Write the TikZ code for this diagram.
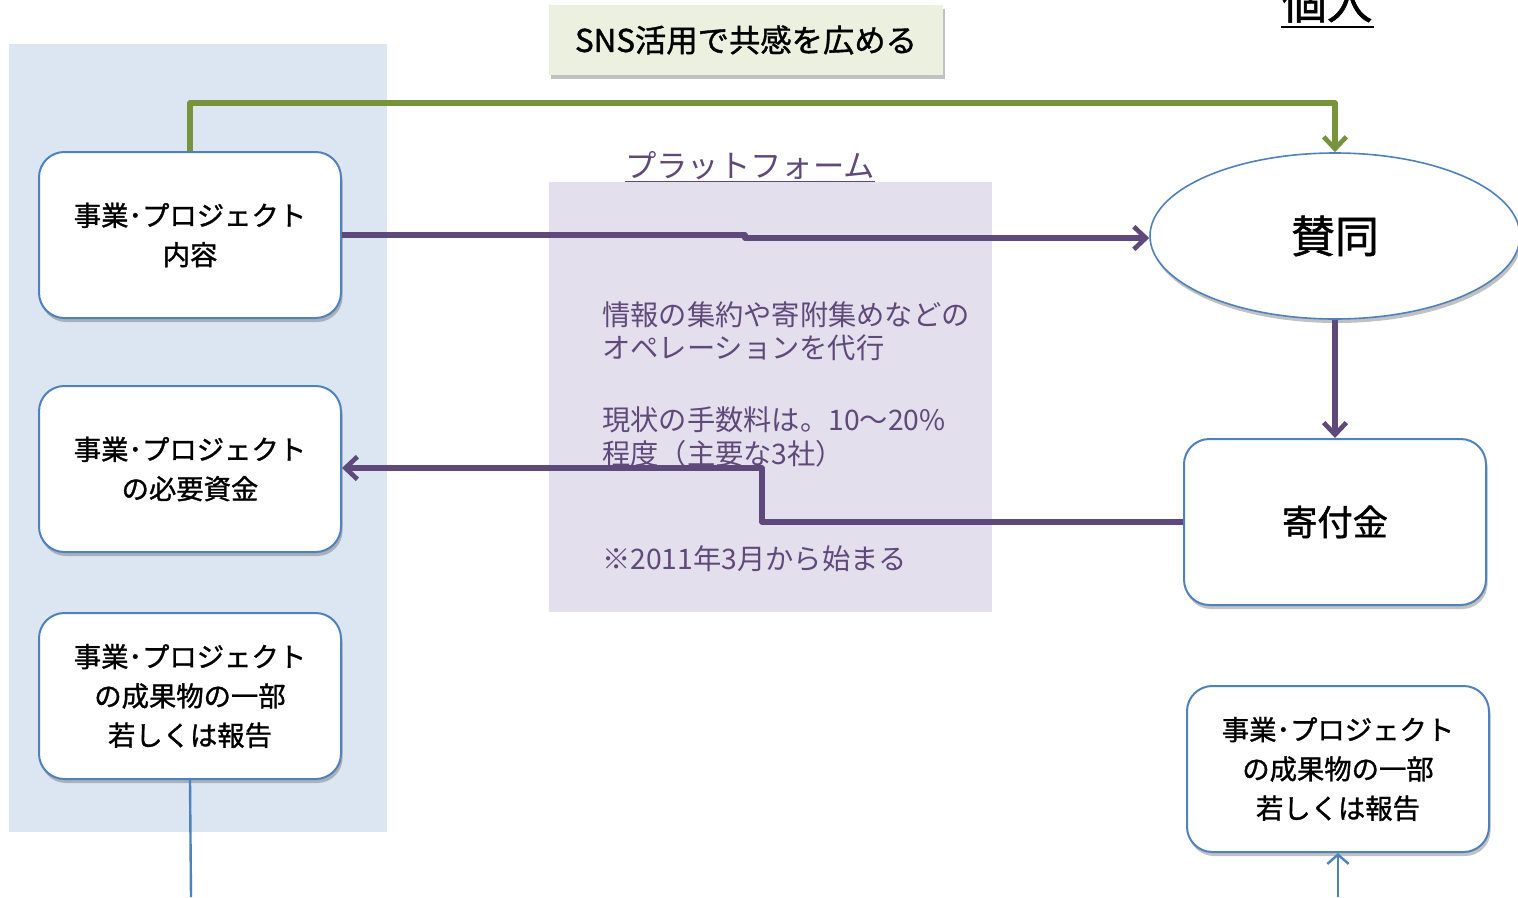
\documentclass[tikz,border=0pt]{standalone}
\usepackage{fontspec}
\setmainfont{Noto Sans CJK JP}
\newfontfamily\bxfont{Noto Sans CJK JP}[FakeBold=1.2]
\usetikzlibrary{arrows.meta,shadows,shapes.geometric}
\definecolor{panelblue}{HTML}{DCE6F2}
\definecolor{panelpurple}{HTML}{E4DFEC}
\definecolor{snsfill}{HTML}{EBF1DE}
\definecolor{lgreen}{HTML}{77933C}
\definecolor{lpurple}{HTML}{5F497A}
\definecolor{boxblue}{HTML}{4F81BD}
\begin{document}
\begin{tikzpicture}[x=0.75pt,y=-0.75pt,
  shad/.style={drop shadow={shadow xshift=1.2pt,shadow yshift=-3pt,opacity=0.35,fill=black!70}},
  box/.style={draw=boxblue,line width=1.5pt,fill=white,rounded corners=19pt,
    minimum width=226.5pt,minimum height=124.5pt,align=center,inner sep=0pt,
    font=\bxfont\fontsize{20.5}{29.5}\selectfont,shad},
  tip/.style={-{Straight Barb[length=9pt,width=17pt,line width=3.5pt]}},
  gline/.style={draw=lgreen,line width=3.8pt,tip},
  pline/.style={draw=lpurple,line width=3.8pt,tip,line join=round},
  bline/.style={draw=boxblue,line width=1.8pt},
  ptext/.style={text=lpurple,anchor=west,align=left,inner sep=0pt,font=\fontsize{21.2}{25}\selectfont}]
\useasboundingbox (0,0) rectangle (1518,897);
% panels
\fill[panelblue] (9,44) rectangle (387,832);
\fill[panelpurple] (549,182) rectangle (992,612);
% title top right
\node[inner sep=0pt,anchor=base,font=\bxfont\fontsize{34}{34}\selectfont] (kojin) at (1327,19) {個人};
\draw[line width=1.5pt] (1281,27) -- (1374,27);
% SNS box
\node[fill=snsfill,minimum width=295.5pt,minimum height=52pt,inner sep=0pt,shad,
  font=\bxfont\fontsize{23.5}{23.5}\selectfont] (sns) at (746,40) {SNS活用で共感を広める};
% platform title and text
\node[text=lpurple,inner sep=0pt,font=\fontsize{23.5}{23.5}\selectfont] (pf) at (750,167) {\underline{プラットフォーム}};
\node[ptext] (t1) at (602,331) {情報の集約や寄附集めなどの\\オペレーションを代行};
\node[ptext] (t2) at (602,437) {現状の手数料は。10～20\%\\程度（主要な3社）};
\node[ptext] (t3) at (602,559) {※2011年3月から始まる};
% boxes
\node[box] (b1) at (190,235) {事業･プロジェクト\\内容};
\node[box] (b2) at (190,469) {事業･プロジェクト\\の必要資金};
\node[box] (b3) at (190,696) {事業･プロジェクト\\の成果物の一部\\若しくは報告};
\node[draw=boxblue,line width=1.2pt,fill=white,ellipse,minimum width=277.5pt,minimum height=124.5pt,
  inner sep=0pt,shad,font=\bxfont\fontsize{33}{33}\selectfont] (el) at (1335,236) {賛同};
\node[box,font=\bxfont\fontsize{26.5}{26.5}\selectfont] (kifu) at (1335,522) {寄付金};
\node[box] (b4) at (1338,769) {事業･プロジェクト\\の成果物の一部\\若しくは報告};
% free ends
\coordinate (bl) at (191,897);
\coordinate (br) at (1338,897);
% connectors
\draw[gline,line join=round] (b1.north) -- ++(0,-48) -| (el.north);
\draw[pline] (b1.east |- 0,235) -- (745,235) -- (745,238) -- (el.west |- 0,238);
\draw[pline] (el.south) -- (kifu.north);
\draw[pline] (kifu.west) -- (762,522) -- (762,468) -- (b2.east |- 0,468);
\draw[bline] (b3.south) -- (bl);
\draw[bline,-{Straight Barb[length=7pt,width=16pt,line width=1.8pt]}] (br) -- (b4.south);
\end{tikzpicture}
\end{document}
